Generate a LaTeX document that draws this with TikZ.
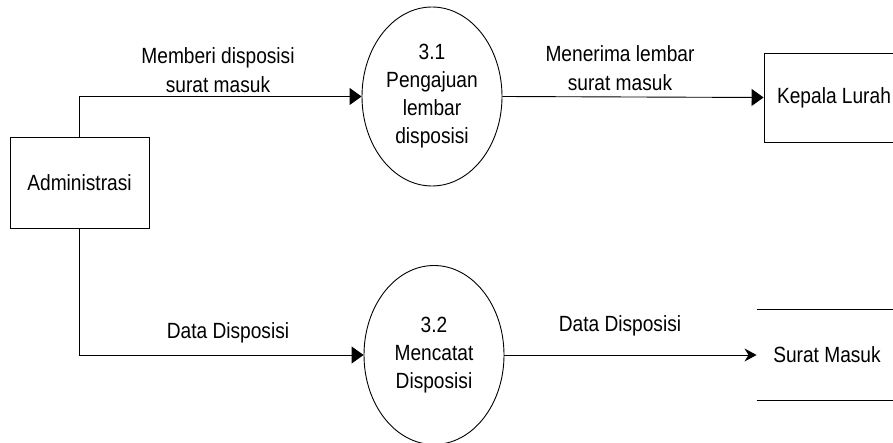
\documentclass[tikz,border=0pt]{standalone}
\usepackage{fontspec}
\setmainfont[FakeStretch=0.87]{Liberation Sans}
\usetikzlibrary{shapes,arrows.meta,positioning}

\begin{document}
\begin{tikzpicture}[x=1pt, y=-1pt, line width=0.9pt,
    every node/.style={font=\fontsize{22}{28}\selectfont},
    proc/.style={ellipse, draw, minimum width=140pt, minimum height=179pt, inner sep=0pt, align=center},
    ent/.style={rectangle, draw, minimum width=139pt, minimum height=91pt},
    store/.style={minimum width=140pt, minimum height=90pt},
    flow/.style={-{Triangle[length=12pt,width=17pt]}},
    flowb/.style={-{Stealth[length=12pt,width=13pt]}},
    lbl/.style={align=center, inner sep=0pt, font=\fontsize{22}{29.5}\selectfont}]
    \useasboundingbox (0,0) rectangle (893,443);
    % entities and processes
    \node[ent] (adm) at (79.5,182.5) {Administrasi};
    \node[proc] (p31) at (432,96.5) {3.1\\Pengajuan\\lembar\\disposisi};
    \node[ent, minimum width=140pt, minimum height=89pt] (kl) at (834,97.5) {Kepala Lurah};
    \node[proc] (p32) at (434,355) {3.2\\Mencatat\\Disposisi};
    \node[store] (sm) at (827,355) {Surat Masuk};
    \draw (sm.north west) -- (sm.north east) (sm.south west) -- (sm.south east);
    % flows
    \draw[flow] (adm.north) |- (p31.west);
    \draw[flow] (p31.east) -- (kl.west);
    \draw[flow] (adm.south) |- (p32.west);
    \draw[flowb] (p32.east) -- (sm.west);
    % labels
    \node[lbl, anchor=north] (l1) at (218,47) {Memberi disposisi\\surat masuk};
    \node[lbl, anchor=north] (l2) at (620,45) {Menerima lembar\\surat masuk};
    \node[lbl, anchor=base] (l3) at (228,338) {Data Disposisi};
    \node[lbl, anchor=base] (l4) at (620,331) {Data Disposisi};
\end{tikzpicture}
\end{document}
